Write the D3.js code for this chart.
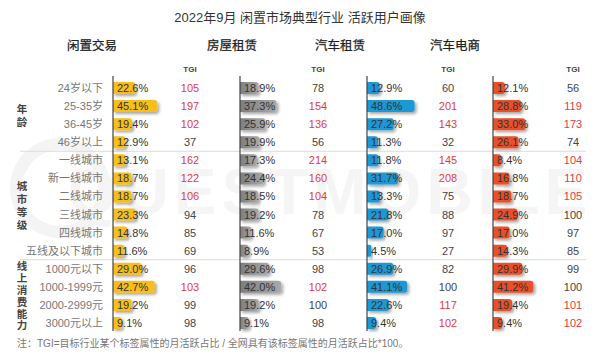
<!DOCTYPE html>
<html><head><meta charset="utf-8">
<script src="https://cdn.jsdelivr.net/npm/d3@7/dist/d3.min.js"></script>
<style>
body{margin:0;background:#fff;}
text{font-family:"Liberation Sans","Noto Sans CJK SC",sans-serif;}
</style></head>
<body>
<svg id="c" width="600" height="354"></svg>
<script>
const title = "2022年9月 闲置市场典型行业 活跃用户画像";
const industries = ["闲置交易","房屋租赁","汽车租赁","汽车电商"];
const rowLabels = ["24岁以下","25-35岁","36-45岁","46岁以上","一线城市","新一线城市","二线城市","三线城市","四线城市","五线及以下城市","1000元以下","1000-1999元","2000-2999元","3000元以上"];
const groups = [{name:"年龄",from:0,to:3},{name:"城市等级",from:4,to:9},{name:"线上消费能力",from:10,to:13}];
const share1 = [22.6,45.1,19.4,12.9,13.1,18.7,18.7,23.3,14.8,11.6,29.0,42.7,19.2,9.1];
const share2 = [18.9,37.3,25.9,19.9,17.3,24.4,18.5,19.2,11.6,8.9,29.6,42.0,19.2,9.1];
const share3 = [12.9,48.6,27.2,11.3,11.8,31.7,13.3,21.8,17.0,4.5,26.9,41.1,22.6,9.4];
const share4 = [12.1,28.8,33.0,26.1,8.4,16.8,18.7,24.9,17.0,14.3,29.9,41.2,19.4,9.4];
const tgi1 = [105,197,102,37,162,122,106,94,85,69,96,103,99,98];
const tgi2 = [78,154,136,56,214,160,104,78,67,53,98,102,100,98];
const tgi3 = [60,201,143,32,145,208,75,88,97,27,82,100,117,102];
const tgi4 = [56,119,173,74,104,110,105,100,97,85,99,100,101,102];
const note = "注：TGI=目标行业某个标签属性的月活跃占比 / 全网具有该标签属性的月活跃占比*100。";
const watermark = "QUESTMOBILE";

const shares=[share1,share2,share3,share4], tgis=[tgi1,tgi2,tgi3,tgi4];
const colors=["#f8bf1c","#8c8c8c","#1e98d4","#e9502b"];
const axisX=[113,240,367,493];
const headX=[92,232,340,455];
const tgiX=[190,318,448,573];

const svg=d3.select("#c");
const defs=svg.append("defs");
const f=defs.append("filter").attr("id","sh").attr("x","-20%").attr("y","-30%").attr("width","150%").attr("height","190%");
f.append("feDropShadow").attr("dx",2).attr("dy",2).attr("stdDeviation",1.6).attr("flood-color","#000").attr("flood-opacity",0.35);
const g2=defs.append("linearGradient").attr("id","gg");
g2.append("stop").attr("offset","0%").attr("stop-color","#7d7d7d");
g2.append("stop").attr("offset","100%").attr("stop-color","#a9a9a9");

// watermark
svg.append("circle").attr("cx",60).attr("cy",188).attr("r",44).attr("fill","none").attr("stroke","#f4f4f4").attr("stroke-width",12);
svg.append("text").attr("x",330).attr("y",214).attr("text-anchor","middle").attr("font-size",64).attr("font-weight","bold")
  .attr("fill","#f5f5f5").attr("letter-spacing",5).text(watermark);

svg.append("text").attr("x",300).attr("y",22).attr("text-anchor","middle").attr("font-size",13).attr("fill","#333").text(title);
svg.selectAll(".hd").data(industries).join("text").attr("x",(d,i)=>headX[i]).attr("y",50).attr("text-anchor","middle")
  .attr("font-size",12.5).attr("fill","#222").attr("stroke","#222").attr("stroke-width",0.25).text(d=>d);

const y=d3.scalePoint().domain(rowLabels).range([88,323]);
const x=d3.scaleLinear().domain([0,50]).range([0,49]);

// separators
[3.5,9.5].forEach(k=>{
  const yy=(y(rowLabels[Math.floor(k)])+y(rowLabels[Math.ceil(k)]))/2;
  svg.append("line").attr("x1",20).attr("x2",586).attr("y1",yy).attr("y2",yy).attr("stroke","#dcdcdc").attr("stroke-width",1);
});

// row labels
svg.selectAll(".rl").data(rowLabels).join("text").attr("x",103).attr("y",d=>y(d)+4).attr("text-anchor","end")
  .attr("font-size",11).attr("fill","#777").text(d=>d);

// group labels
groups.forEach(gr=>{
  const mid=(y(rowLabels[gr.from])+y(rowLabels[gr.to]))/2;
  const chars=gr.name.split(""); const sp=gr.name.length>4?11.8:13;
  chars.forEach((c,j)=>{
    svg.append("text").attr("x",22).attr("y",mid+(j-(chars.length-1)/2)*sp+4).attr("text-anchor","middle")
      .attr("font-size",10.5).attr("font-weight","bold").attr("fill","#444").text(c);
  });
});

// TGI headers
[0,1,2,3].forEach(i=>{
  svg.append("text").attr("x",tgiX[i]).attr("y",72).attr("text-anchor","middle").attr("font-size",8).attr("font-weight","bold").attr("fill","#444").text("TGI");
});

for(let c=0;c<4;c++){
  const g=svg.append("g").attr("transform",`translate(${axisX[c]},0)`);
  g.selectAll("path.bar").data(shares[c]).join("path").attr("filter","url(#sh)")
    .attr("fill",c===1?"url(#gg)":colors[c])
    .attr("d",(d,i)=>{const w=x(d),h=12,yy=y(rowLabels[i])-h/2,r=Math.min(3,w/2);
      return `M0,${yy}H${w-r}Q${w},${yy} ${w},${yy+r}V${yy+h-r}Q${w},${yy+h} ${w-r},${yy+h}H0Z`;});
  g.selectAll("text.v").data(shares[c]).join("text").attr("x",4).attr("y",(d,i)=>y(rowLabels[i])+4)
    .attr("font-size",11).attr("fill","#333").text(d=>d.toFixed(1)+"%");
  g.append("line").attr("x1",0).attr("x2",0).attr("y1",76).attr("y2",331).attr("stroke","#444").attr("stroke-width",1.2);
  svg.selectAll(null).data(tgis[c]).join("text").attr("x",tgiX[c]).attr("y",(d,i)=>y(rowLabels[i])+4).attr("text-anchor","middle")
    .attr("font-size",11).attr("fill",d=>d>100?"#e23b3f":"#444").text(d=>d);
}

svg.append("text").attr("x",17).attr("y",347).attr("font-size",10).attr("fill","#777").text(note);
</script>
</body></html>
